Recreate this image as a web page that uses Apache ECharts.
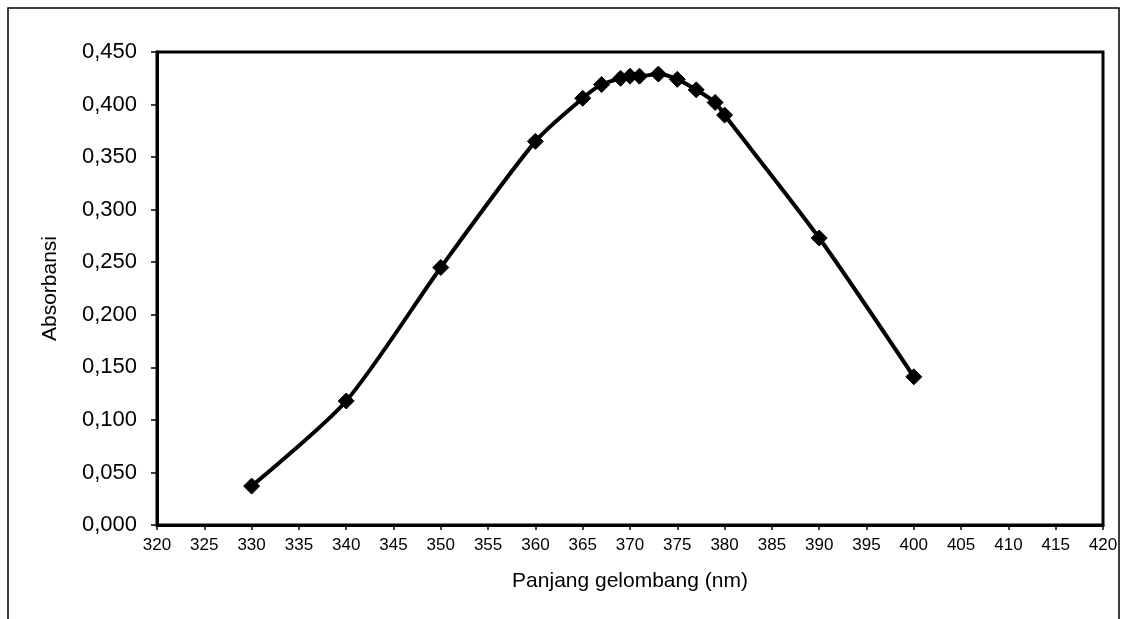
<!DOCTYPE html>
<html>
<head>
<meta charset="utf-8">
<script src="https://cdn.jsdelivr.net/npm/echarts@6/dist/echarts.min.js"></script>
<style>
html,body{margin:0;padding:0;background:#fff;}
#chart{width:1121px;height:619px;}
</style>
</head>
<body>
<div id="chart"></div>
<script>
// Data
const wavelengths = [330, 340, 350, 360, 365, 367, 369, 370, 371, 373, 375, 377, 379, 380, 390, 400];
const absorbance  = [0.037, 0.118, 0.245, 0.365, 0.406, 0.419, 0.425, 0.427, 0.427, 0.429, 0.424, 0.414, 0.402, 0.390, 0.273, 0.141];
const xTitle = 'Panjang gelombang (nm)';
const yTitle = 'Absorbansi';

const points = wavelengths.map((w, i) => [w, absorbance[i]]);
const font = '"Liberation Sans", Arial, sans-serif';

const chart = echarts.init(document.getElementById('chart'), null, {renderer: 'canvas'});
chart.setOption({
  animation: false,
  backgroundColor: '#ffffff',
  graphic: [{
    type: 'rect',
    shape: {x: 8, y: 8, width: 1111, height: 700},
    style: {fill: 'none', stroke: '#000', lineWidth: 1.5},
    silent: true
  }],
  grid: {
    left: 157, right: 18, top: 52, bottom: 94,
    show: true, borderColor: '#000', borderWidth: 3, backgroundColor: 'transparent'
  },
  xAxis: {
    type: 'value', min: 320, max: 420, interval: 5,
    name: xTitle, nameLocation: 'middle', nameGap: 46,
    nameTextStyle: {fontFamily: font, fontSize: 21, color: '#000'},
    axisLine: {show: true, lineStyle: {color: '#000', width: 3}},
    axisTick: {show: true, length: 5, lineStyle: {color: '#000', width: 1.5}},
    axisLabel: {fontFamily: font, fontSize: 17, color: '#000', margin: 12},
    splitLine: {show: false}
  },
  yAxis: {
    type: 'value', min: 0, max: 0.45, interval: 0.05,
    name: yTitle, nameLocation: 'middle', nameGap: 96,
    nameTextStyle: {fontFamily: font, fontSize: 21, color: '#000'},
    axisLine: {show: true, lineStyle: {color: '#000', width: 3}},
    axisTick: {show: true, length: 6, lineStyle: {color: '#000', width: 1.5}},
    axisLabel: {fontFamily: font, fontSize: 22, color: '#000', margin: 20,
      formatter: v => v.toFixed(3).replace('.', ',')},
    splitLine: {show: false}
  },
  series: [{
    type: 'line',
    data: points,
    smooth: 0.25,
    symbol: 'diamond',
    symbolSize: 16,
    showSymbol: true,
    lineStyle: {color: '#000', width: 4},
    itemStyle: {color: '#000', borderColor: '#000'}
  }]
});
</script>
</body>
</html>
